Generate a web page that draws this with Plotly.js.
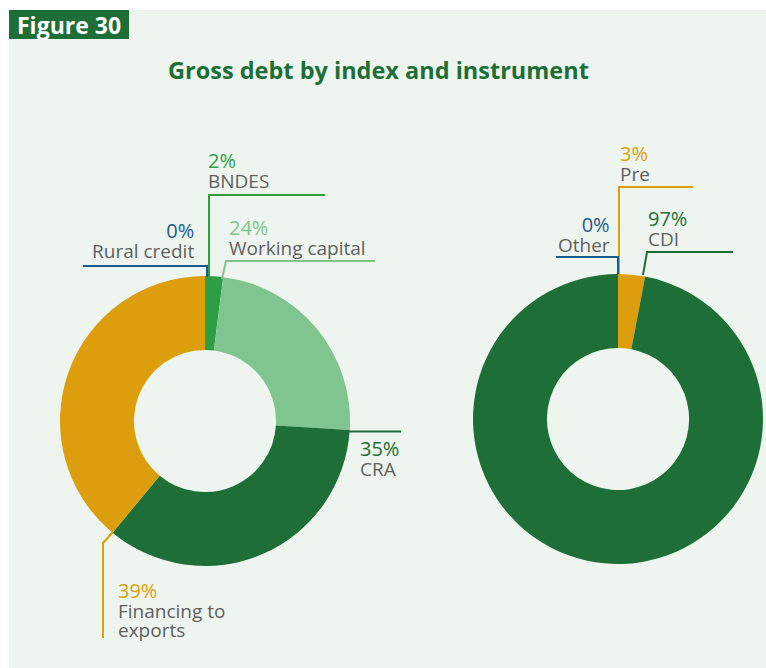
<!DOCTYPE html>
<html>
<head>
<meta charset="utf-8">
<script src="https://cdn.plot.ly/plotly-3.0.1.min.js"></script>
<style>
html,body{margin:0;padding:0;background:#ffffff;}
#chart{width:766px;height:668px;}
</style>
</head>
<body>
<div id="chart"></div>
<script>
// ---- Data ----
const instrumentLabels = ['BNDES', 'Working capital', 'CRA', 'Financing to exports', 'Rural credit'];
const instrumentValues = [2, 24, 35, 39, 0];
const instrumentColors = ['#2e9e45', '#80c48f', '#1d6e37', '#dc9e0c', '#1a5c8c'];

const indexLabels = ['Pre', 'CDI', 'Other'];
const indexValues = [3, 97, 0];
const indexColors = ['#dc9e0c', '#1d6e37', '#1a5c8c'];

const titleText = 'Gross debt by index and instrument';
const figureTag = 'Figure 30';

// ---- Layout helpers (pixel -> paper) ----
const W = 766, H = 668;
const px = x => x / W;
const py = y => 1 - y / H;

const leftPie = {cx: 205, cy: 421, r: 145};
const rightPie = {cx: 618, cy: 419, r: 145};
function domainOf(p) {
  return {x: [px(p.cx - p.r), px(p.cx + p.r)], y: [py(p.cy + p.r), py(p.cy - p.r)]};
}

const FAM = '"Open Sans", Lato, sans-serif';

// x: text edge, y: vertical middle of the text block
const leftCallouts = [
  {i: 0, x: 207, y: 171, anchor: 'left', path: [[325,195],[209,195],[209,277]]},
  {i: 1, x: 228, y: 237, anchor: 'left', path: [[375,261],[226,261],[222,279]]},
  {i: 2, x: 359, y: 458, anchor: 'left', path: [[346,431.5],[401,431.5]]},
  {i: 3, x: 117, y: 610, anchor: 'left', lines: ['Financing to', 'exports'], path: [[113,532],[103,543],[103,638]]},
  {i: 4, x: 195, y: 241, anchor: 'right', path: [[83,266],[207,266],[207,277]]}
];
const rightCallouts = [
  {i: 0, x: 619, y: 163, anchor: 'left', path: [[693,187],[619,187],[619,274]]},
  {i: 1, x: 647, y: 228, anchor: 'left', path: [[733,252],[647,252],[643,275]]},
  {i: 2, x: 611, y: 234, anchor: 'right', path: [[556,257],[618,257],[618,274]]}
];

const annotations = [];
const shapes = [];

shapes.push({type: 'rect', xref: 'paper', yref: 'paper', x0: px(9), x1: px(766), y0: py(668), y1: py(10),
  fillcolor: '#edf5ee', line: {width: 0}, layer: 'below'});
shapes.push({type: 'rect', xref: 'paper', yref: 'paper', x0: px(9), x1: px(129), y0: py(39), y1: py(10),
  fillcolor: '#1d6e37', line: {width: 0}, layer: 'below'});

annotations.push({text: '<b>' + figureTag + '</b>', xref: 'paper', yref: 'paper', x: px(69), y: py(25),
  xanchor: 'center', yanchor: 'middle', showarrow: false, borderpad: 0,
  font: {family: FAM, size: 23, color: '#ffffff'}});
annotations.push({text: '<b>' + titleText + '</b>', xref: 'paper', yref: 'paper', x: px(378), y: py(70),
  xanchor: 'center', yanchor: 'middle', showarrow: false,
  font: {family: FAM, size: 23.5, color: '#1d6e37'}});

function addCallouts(list, labels, values, colors) {
  list.forEach(c => {
    const col = colors[c.i];
    const lines = c.lines || [labels[c.i]];
    const txt = '<span style="font-size:20px;color:' + col + '">' + values[c.i] + '%</span>' +
      lines.map(t => '<br><span style="font-size:19px;color:#5f5f5f">' + t + '</span>').join('');
    annotations.push({text: txt, xref: 'paper', yref: 'paper', x: px(c.x), y: py(c.y),
      xanchor: c.anchor, yanchor: 'middle', align: c.anchor, showarrow: false, borderpad: 0,
      font: {family: FAM, size: 15, color: '#5f5f5f'}});
    const d = c.path.map((p, k) => (k ? 'L' : 'M') + px(p[0]) + ',' + py(p[1])).join(' ');
    shapes.push({type: 'path', xref: 'paper', yref: 'paper', path: d, line: {color: col, width: 2}, layer: 'above'});
  });
}
addCallouts(leftCallouts, instrumentLabels, instrumentValues, instrumentColors);
addCallouts(rightCallouts, indexLabels, indexValues, indexColors);

const data = [
  {type: 'pie', labels: instrumentLabels, values: instrumentValues, hole: 0.49, sort: false,
   direction: 'clockwise', rotation: 0, textinfo: 'none', showlegend: false,
   marker: {colors: instrumentColors, line: {width: 0}}, domain: domainOf(leftPie)},
  {type: 'pie', labels: indexLabels, values: indexValues, hole: 0.49, sort: false,
   direction: 'clockwise', rotation: 0, textinfo: 'none', showlegend: false,
   marker: {colors: indexColors, line: {width: 0}}, domain: domainOf(rightPie)}
];

const layout = {
  width: W, height: H,
  margin: {l: 0, r: 0, t: 0, b: 0, pad: 0},
  paper_bgcolor: '#ffffff',
  plot_bgcolor: 'rgba(0,0,0,0)',
  showlegend: false,
  shapes: shapes,
  annotations: annotations
};

Plotly.newPlot('chart', data, layout, {displayModeBar: false, staticPlot: true});
</script>
</body>
</html>
